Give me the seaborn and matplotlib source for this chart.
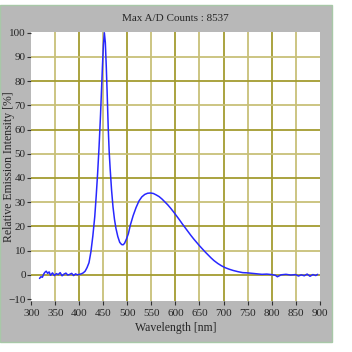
import matplotlib
matplotlib.use('Agg')
import matplotlib.pyplot as plt
import seaborn as sns
import pandas as pd
from matplotlib.patches import Rectangle

sns.set_style('white')
plt.rcParams['font.family'] = ['Liberation Serif', 'DejaVu Serif']

# Spectrum (wavelength in nm, intensity in %)
wavelength = [317, 320, 323, 326, 328, 331, 334, 337, 340, 344, 348, 352, 356, 360,
              364, 368, 372, 376, 380, 384, 388, 392, 396, 400, 404, 408, 412, 416,
              420, 424, 428, 432, 435, 438, 441, 444, 446, 448, 450, 452, 454, 456,
              458, 460, 462, 464, 467, 470, 473, 476, 480, 484, 488, 491, 494, 498,
              502, 506, 512, 518, 524, 530, 536, 542, 548, 554, 560, 566, 572, 578,
              584, 590, 596, 602, 608, 614, 620, 626, 632, 638, 644, 650, 656, 662,
              668, 674, 680, 688, 696, 704, 712, 720, 730, 740, 750, 760, 770, 780,
              790, 800, 808, 812, 820, 830, 840, 850, 856, 862, 868, 874, 880, 886,
              892, 896]
intensity = [-1.5, -0.8, -1.0, 0.4, 1.0, 1.5, 0.6, 1.2, -0.2, 0.8, -0.3, 0.5, 0.1, 0.9,
             -0.4, 0.3, 0.7, -0.1, 0.2, 0.6, -0.3, 0.4, 0.0, 0.2, 0.4, 0.8, 1.5, 3.0,
             5.0, 9.5, 16.0, 24.0, 32.5, 42.0, 53.0, 66.0, 76.0, 86.0, 95.0, 100.0, 96.0, 86.0,
             74.0, 61.0, 51.0, 44.0, 35.0, 28.0, 23.0, 19.3, 15.8, 13.4, 12.5, 12.4, 13.0, 14.8,
             17.0, 20.5, 24.5, 27.8, 30.5, 32.2, 33.2, 33.7, 33.8, 33.6, 33.0, 32.3, 31.3, 30.1,
             28.9, 27.5, 26.0, 24.4, 22.8, 21.1, 19.5, 17.9, 16.3, 14.8, 13.4, 12.0, 10.7, 9.4,
             8.2, 7.0, 5.9, 4.7, 3.7, 2.9, 2.3, 1.8, 1.3, 0.9, 0.8, 0.6, 0.4, 0.2,
             0.3, 0.1, -0.2, -0.8, 0.0, 0.2, -0.1, 0.1, -0.5, 0.0, -0.4, 0.3, -0.6, 0.1,
             -0.3, 0.2]

x_ticks = list(range(300, 901, 50))
y_ticks = list(range(-10, 101, 10))

data = pd.DataFrame({'Wavelength': wavelength, 'Intensity': intensity})

fig = plt.figure(figsize=(3.52, 3.52), dpi=100, facecolor='white')
# Gray instrument panel behind the graph
fig.patches.append(Rectangle((0.0, 0.028), 0.943, 0.958, transform=fig.transFigure,
                             facecolor='#b8b8b8', edgecolor='#a8c8a8', linewidth=1.0, zorder=-5))

ax = fig.add_axes([0.089, 0.145, 0.819, 0.764])
ax.set_facecolor('white')

# Olive grid lines, alternating shades like the reference
grid_light = '#c8c078'
grid_dark = '#a49c30'
for i, xv in enumerate(range(350, 900, 50)):
    ax.axvline(xv, color=grid_light if i % 2 == 0 else grid_dark, lw=1.3, zorder=1)
for i, yv in enumerate(range(0, 100, 10)):
    ax.axhline(yv, color=grid_dark if i % 2 == 0 else grid_light, lw=1.3, zorder=1)

sns.lineplot(data=data, x='Wavelength', y='Intensity', ax=ax, color='#2828ff', lw=1.1, zorder=3)

ax.set_xlim(300, 900)
ax.set_ylim(-10.8, 100.3)
ax.set_xticks(x_ticks)
ax.set_yticks(y_ticks)
ax.tick_params(axis='both', direction='out', length=3, width=0.8, color='#303030',
               labelsize=8, pad=1, bottom=True, left=True)
ax.tick_params(axis='x', pad=2.5)
for s in ax.spines.values():
    s.set_visible(False)

ax.set_xlabel('Wavelength [nm]', fontsize=8.5, labelpad=3)
ax.set_ylabel('Relative Emission Intensity [%]', fontsize=8.5, labelpad=1)
ax.yaxis.set_label_coords(-0.058, 0.5)
ax.set_title('Max A/D Counts : 8537', fontsize=8, pad=8)

fig.savefig('out.png', dpi=100, facecolor='white')
